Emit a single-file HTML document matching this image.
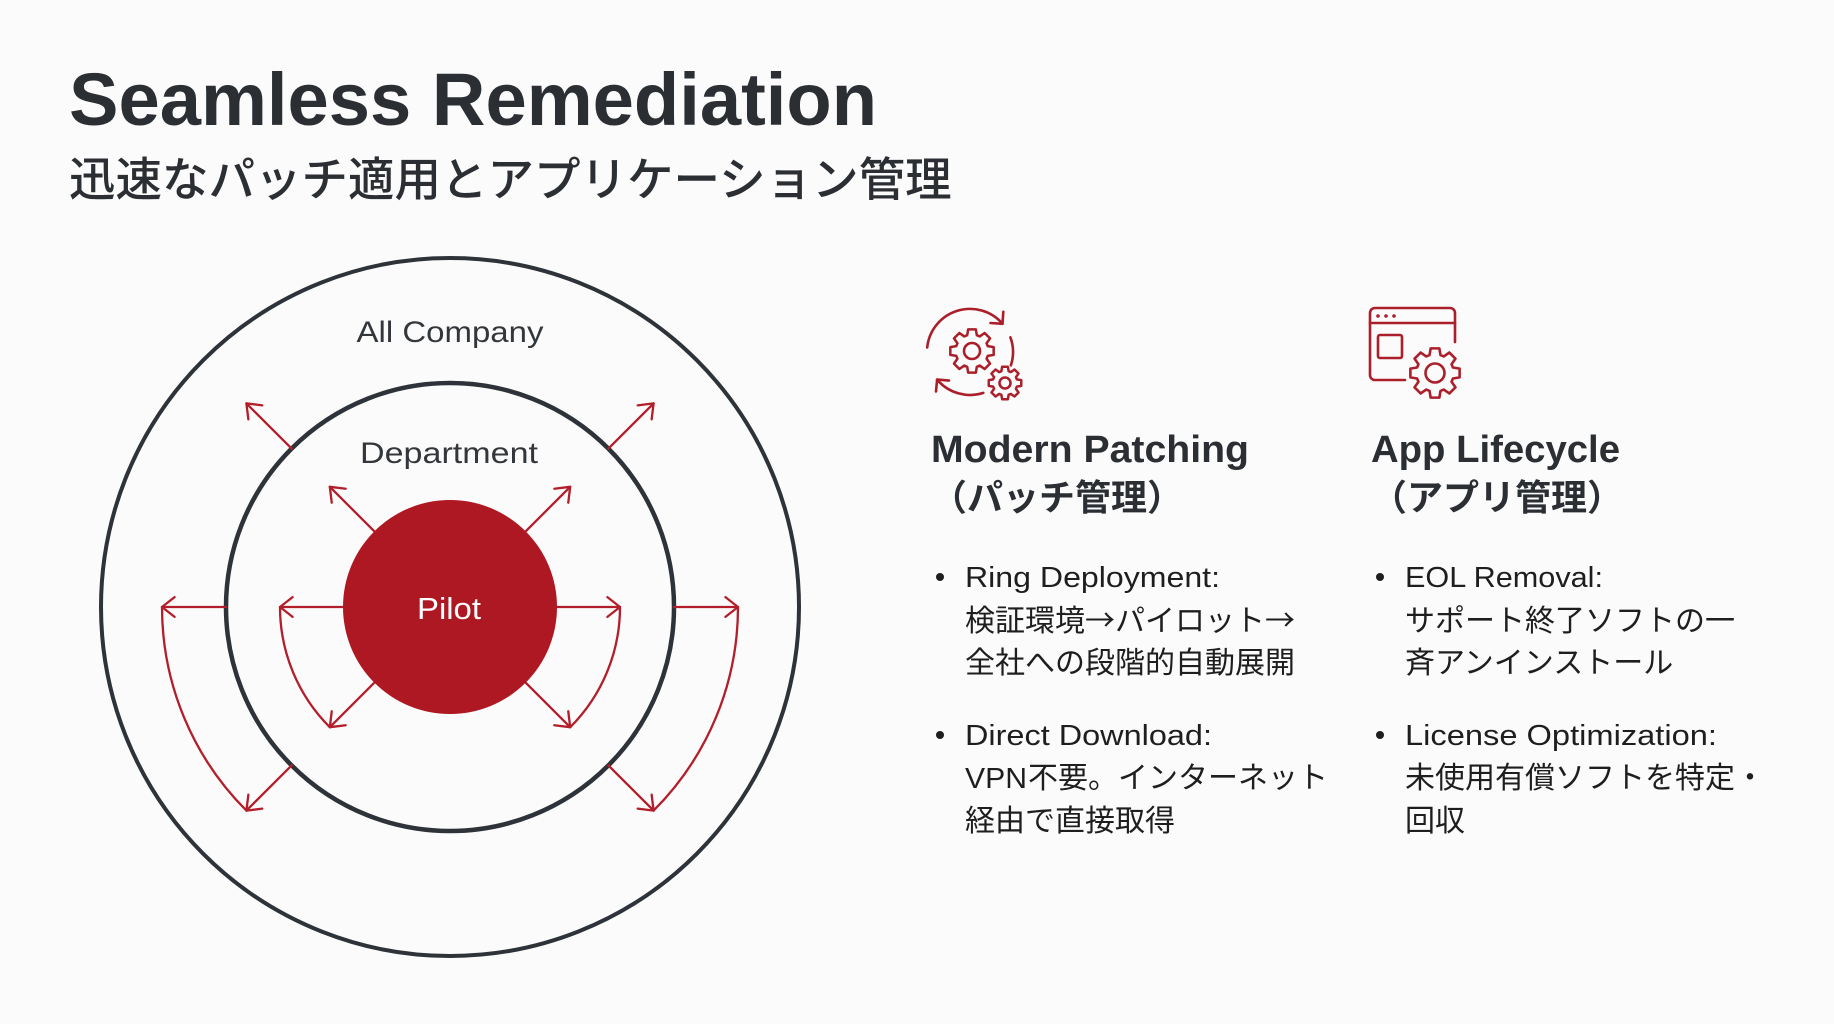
<!DOCTYPE html>
<html>
<head>
<meta charset="utf-8">
<style>
html,body{margin:0;padding:0;background:#fbfbfb;}
svg{display:block;}
text{font-family:"Liberation Sans","Noto Sans CJK JP",sans-serif;}
.cj{font-family:"Noto Sans CJK JP","Liberation Sans",sans-serif;}
</style>
</head>
<body>
<svg width="1834" height="1024" viewBox="0 0 1834 1024" xmlns="http://www.w3.org/2000/svg">
<rect width="1834" height="1024" fill="#fbfbfb"/>

<!-- Title -->
<text x="69" y="125" font-size="74" font-weight="700" fill="#2b2f34" textLength="808" lengthAdjust="spacingAndGlyphs">Seamless Remediation</text>
<text x="69" y="196" font-size="46.5" font-weight="500" fill="#2b2f34">迅速なパッチ適用とアプリケーション管理</text>

<!-- Circles -->
<circle cx="450" cy="607" r="349" fill="none" stroke="#2d3338" stroke-width="4"/>
<circle cx="450" cy="607" r="224" fill="none" stroke="#2d3338" stroke-width="4.5"/>

<!-- Arrows -->
<g fill="none" stroke="#b21f2b" stroke-width="2.3" stroke-linecap="round" stroke-linejoin="round">
  <!-- inner set -->
  <line x1="360" y1="607" x2="280" y2="607"/>
  <polyline points="292.6,597.1 280,607 292.6,616.9"/>
  <line x1="540" y1="607" x2="620" y2="607"/>
  <polyline points="607.4,597.1 620,607 607.4,616.9"/>
  <line x1="374.3" y1="531.3" x2="329.8" y2="486.8"/>
  <polyline points="345.7,488.75 329.8,486.8 331.75,502.7"/>
  <line x1="525.7" y1="531.3" x2="570.2" y2="486.8"/>
  <polyline points="554.3,488.75 570.2,486.8 568.25,502.7"/>
  <line x1="374.3" y1="682.7" x2="329.8" y2="727.2"/>
  <polyline points="345.7,725.25 329.8,727.2 331.75,711.3"/>
  <line x1="525.7" y1="682.7" x2="570.2" y2="727.2"/>
  <polyline points="554.3,725.25 570.2,727.2 568.25,711.3"/>
  <path d="M280,607 A170,170 0 0 0 329.8,727.2"/>
  <path d="M620,607 A170,170 0 0 1 570.2,727.2"/>
  <!-- outer set -->
  <line x1="226" y1="607" x2="162" y2="607"/>
  <polyline points="174.6,597.1 162,607 174.6,616.9"/>
  <line x1="674" y1="607" x2="738" y2="607"/>
  <polyline points="725.4,597.1 738,607 725.4,616.9"/>
  <line x1="291.6" y1="448.6" x2="246.4" y2="403.4"/>
  <polyline points="262.3,405.35 246.4,403.4 248.35,419.3"/>
  <line x1="608.4" y1="448.6" x2="653.6" y2="403.4"/>
  <polyline points="637.7,405.35 653.6,403.4 651.65,419.3"/>
  <line x1="291.6" y1="765.4" x2="246.4" y2="810.6"/>
  <polyline points="262.3,808.65 246.4,810.6 248.35,794.7"/>
  <line x1="608.4" y1="765.4" x2="653.6" y2="810.6"/>
  <polyline points="637.7,808.65 653.6,810.6 651.65,794.7"/>
  <path d="M162,607 A288,288 0 0 0 246.4,810.6"/>
  <path d="M738,607 A288,288 0 0 1 653.6,810.6"/>
</g>

<!-- Pilot -->
<circle cx="450" cy="607" r="107" fill="#ae1823"/>
<text x="449" y="619" font-size="31" fill="#ffffff" text-anchor="middle" textLength="64" lengthAdjust="spacingAndGlyphs">Pilot</text>

<!-- Circle labels -->
<text x="450" y="342" font-size="30" fill="#33373b" text-anchor="middle" textLength="187" lengthAdjust="spacingAndGlyphs">All Company</text>
<text x="449" y="463" font-size="30" fill="#33373b" text-anchor="middle" textLength="178" lengthAdjust="spacingAndGlyphs">Department</text>

<!-- Icon 1: patching -->
<g fill="none" stroke="#ab1f2b" stroke-width="2.6" stroke-linecap="round" stroke-linejoin="round">
  <path d="M927.2,347.5 A43,43 0 0 1 1002.5,323.8"/>
  <polyline points="990.5,323 1002.5,323.8 1003.3,311.8"/>
  <path d="M983.3,392.9 A43,43 0 0 1 937.1,379.6"/>
  <polyline points="949,380.6 937.1,379.6 936,391.5"/>
  <path d="M1010.4,337.3 A43,43 0 0 1 1010.9,365.3"/>
  <path transform="translate(972,351) scale(22)" stroke-width="0.115" d="M0.717,-0.219 L0.985,-0.174 L0.985,0.174 L0.717,0.219 L0.662,0.352 L0.819,0.574 L0.574,0.819 L0.352,0.662 L0.219,0.717 L0.174,0.985 L-0.174,0.985 L-0.219,0.717 L-0.352,0.662 L-0.574,0.819 L-0.819,0.574 L-0.662,0.352 L-0.717,0.219 L-0.985,0.174 L-0.985,-0.174 L-0.717,-0.219 L-0.662,-0.352 L-0.819,-0.574 L-0.574,-0.819 L-0.352,-0.662 L-0.219,-0.717 L-0.174,-0.985 L0.174,-0.985 L0.219,-0.717 L0.352,-0.662 L0.574,-0.819 L0.819,-0.574 L0.662,-0.352 Z"/>
  <circle cx="972" cy="351" r="8"/>
  <path transform="translate(1005,383) scale(16.5)" stroke-width="0.15" fill="#fbfbfb" d="M0.717,-0.219 L0.985,-0.174 L0.985,0.174 L0.717,0.219 L0.662,0.352 L0.819,0.574 L0.574,0.819 L0.352,0.662 L0.219,0.717 L0.174,0.985 L-0.174,0.985 L-0.219,0.717 L-0.352,0.662 L-0.574,0.819 L-0.819,0.574 L-0.662,0.352 L-0.717,0.219 L-0.985,0.174 L-0.985,-0.174 L-0.717,-0.219 L-0.662,-0.352 L-0.819,-0.574 L-0.574,-0.819 L-0.352,-0.662 L-0.219,-0.717 L-0.174,-0.985 L0.174,-0.985 L0.219,-0.717 L0.352,-0.662 L0.574,-0.819 L0.819,-0.574 L0.662,-0.352 Z"/>
  <circle cx="1005" cy="383" r="5.5"/>
</g>

<!-- Icon 2: app lifecycle -->
<g fill="none" stroke="#ab1f2b" stroke-width="2.6" stroke-linecap="round" stroke-linejoin="round">
  <path d="M1455,342 L1455,313 A5,5 0 0 0 1450,308 L1375,308 A5,5 0 0 0 1370,313 L1370,375 A5,5 0 0 0 1375,380 L1405,380"/>
  <line x1="1370" y1="323" x2="1455" y2="323"/>
  <rect x="1378" y="335" width="24" height="23" rx="2"/>
  <path transform="translate(1435,373) scale(25)" stroke-width="0.104" d="M0.717,-0.219 L0.985,-0.174 L0.985,0.174 L0.717,0.219 L0.662,0.352 L0.819,0.574 L0.574,0.819 L0.352,0.662 L0.219,0.717 L0.174,0.985 L-0.174,0.985 L-0.219,0.717 L-0.352,0.662 L-0.574,0.819 L-0.819,0.574 L-0.662,0.352 L-0.717,0.219 L-0.985,0.174 L-0.985,-0.174 L-0.717,-0.219 L-0.662,-0.352 L-0.819,-0.574 L-0.574,-0.819 L-0.352,-0.662 L-0.219,-0.717 L-0.174,-0.985 L0.174,-0.985 L0.219,-0.717 L0.352,-0.662 L0.574,-0.819 L0.819,-0.574 L0.662,-0.352 Z"/>
  <circle cx="1435" cy="373" r="9.5"/>
</g>
<g fill="#ab1f2b">
  <circle cx="1378" cy="316" r="1.8"/>
  <circle cx="1386" cy="316" r="1.8"/>
  <circle cx="1394" cy="316" r="1.8"/>
</g>

<!-- Column 1 -->
<text x="931" y="462" font-size="38" font-weight="700" fill="#2b2f34" textLength="318" lengthAdjust="spacingAndGlyphs">Modern Patching</text>
<text x="931" y="510" font-size="36" font-weight="700" fill="#2b2f34">（パッチ管理）</text>

<circle cx="940" cy="577" r="4" fill="#1e1e1e"/>
<text x="965" y="587" font-size="29" fill="#1e1e1e" textLength="255" lengthAdjust="spacingAndGlyphs">Ring Deployment:</text>
<text x="965" y="631" font-size="30" fill="#1e1e1e">検証環境<tspan class="cj">→</tspan>パイロット<tspan class="cj">→</tspan></text>
<text x="965" y="673" font-size="30" fill="#1e1e1e">全社への段階的自動展開</text>

<circle cx="940" cy="735" r="4" fill="#1e1e1e"/>
<text x="965" y="745" font-size="29" fill="#1e1e1e" textLength="247" lengthAdjust="spacingAndGlyphs">Direct Download:</text>
<text x="965" y="788" font-size="29" fill="#1e1e1e" textLength="62" lengthAdjust="spacingAndGlyphs">VPN</text>
<text x="1028" y="788" font-size="30" fill="#1e1e1e">不要。インターネット</text>
<text x="965" y="831" font-size="30" fill="#1e1e1e">経由で直接取得</text>

<!-- Column 2 -->
<text x="1371" y="462" font-size="38" font-weight="700" fill="#2b2f34" textLength="249" lengthAdjust="spacingAndGlyphs">App Lifecycle</text>
<text x="1371" y="510" font-size="36" font-weight="700" fill="#2b2f34">（アプリ管理）</text>

<circle cx="1380" cy="577" r="4" fill="#1e1e1e"/>
<text x="1405" y="587" font-size="29" fill="#1e1e1e" textLength="198" lengthAdjust="spacingAndGlyphs">EOL Removal:</text>
<text x="1405" y="631" font-size="30" fill="#1e1e1e">サポート終了ソフトの一</text>
<text x="1405" y="673" font-size="30" fill="#1e1e1e">斉アンインストール</text>

<circle cx="1380" cy="735" r="4" fill="#1e1e1e"/>
<text x="1405" y="745" font-size="29" fill="#1e1e1e" textLength="312" lengthAdjust="spacingAndGlyphs">License Optimization:</text>
<text x="1405" y="788" font-size="30" fill="#1e1e1e">未使用有償ソフトを特定・</text>
<text x="1405" y="831" font-size="30" fill="#1e1e1e">回収</text>
</svg>
</body>
</html>
